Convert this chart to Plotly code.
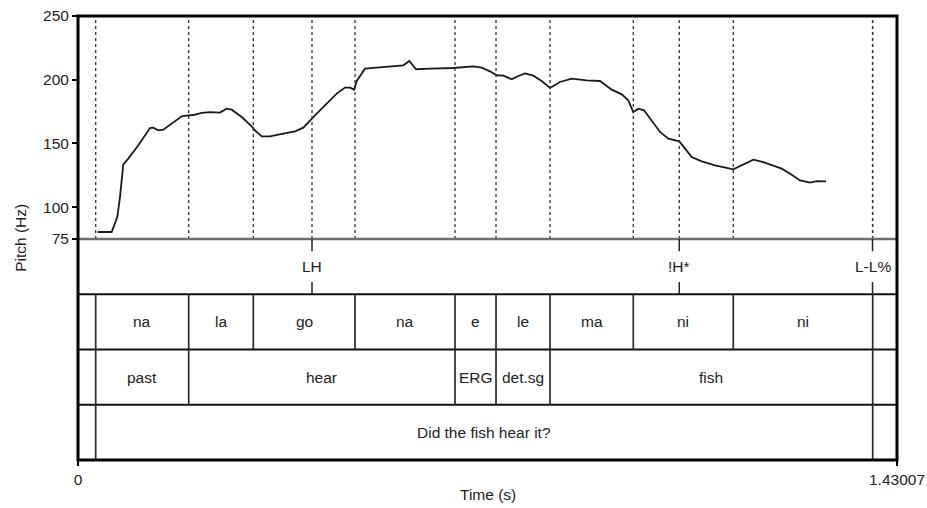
import plotly.graph_objects as go

# ---------------- data ----------------
t_end = 1.43007

pitch_time = [0.0344, 0.0588, 0.0686, 0.0733, 0.0791, 0.0878, 0.1053, 0.1170, 0.1257, 0.1315,
              0.1402, 0.1489, 0.1636, 0.1811, 0.1926, 0.2013, 0.2160, 0.2305, 0.2479, 0.2596,
              0.2684, 0.2858, 0.3033, 0.3091, 0.3208, 0.3353, 0.3585, 0.3789, 0.3934, 0.4051,
              0.4168, 0.4343, 0.4517, 0.4662, 0.4750, 0.4820, 0.4867, 0.5011, 0.5331, 0.5680,
              0.5785, 0.5902, 0.6146, 0.6553, 0.6902, 0.7049, 0.7194, 0.7311, 0.7426, 0.7573,
              0.7688, 0.7805, 0.7950, 0.8097, 0.8242, 0.8416, 0.8621, 0.8883, 0.9115, 0.9319,
              0.9494, 0.9609, 0.9696, 0.9784, 0.9883, 1.0018, 1.0163, 1.0309, 1.0500, 1.0600,
              1.0716, 1.0891, 1.1123, 1.1442, 1.1617, 1.1792, 1.1966, 1.2288, 1.2462, 1.2607,
              1.2782, 1.2899, 1.3061]
pitch_hz = [80.5, 80.5, 92.2, 107.9, 133.6, 138.1, 148.5, 156.4, 162.1, 162.4,
            160.3, 160.8, 165.5, 171.3, 172.1, 172.3, 173.9, 174.6, 174.2, 177.3,
            176.5, 170.7, 163.4, 160.3, 155.6, 155.6, 157.7, 159.5, 162.4, 168.1,
            173.4, 181.2, 189.1, 193.8, 193.8, 192.2, 199.0, 208.7, 210.0, 211.3,
            214.7, 208.2, 208.7, 209.2, 210.5, 209.5, 206.6, 203.5, 203.2, 200.3,
            202.9, 205.0, 203.2, 199.0, 193.5, 198.2, 200.9, 199.5, 199.0, 192.2,
            188.5, 183.8, 174.6, 177.3, 176.0, 168.1, 159.0, 153.8, 151.6, 145.9,
            139.3, 136.0, 132.8, 129.7, 133.6, 137.3, 135.4, 130.2, 125.5, 121.0,
            119.2, 120.5, 120.3]

pitch_ticks = [75, 100, 150, 200, 250]

tone_times = [0.4086, 1.0499, 1.3873]
tone_labels = ["LH", "!H*", "L-L%"]

syll_bounds = [0.0309, 0.1933, 0.3061, 0.4837, 0.6583, 0.7299, 0.8242, 0.9696, 1.1442, 1.3876]
syll_labels = ["na", "la", "go", "na", "e", "le", "ma", "ni", "ni"]

gloss_bounds = [0.0309, 0.1933, 0.6583, 0.7299, 0.8242, 1.3876]
gloss_labels = ["past", "hear", "ERG", "det.sg", "fish"]

trans_bounds = [0.0309, 1.3876]
trans_labels = ["Did the fish hear it?"]

# ---------------- figure ----------------
FONT = "Liberation Sans, Arial, Helvetica, sans-serif"
FS = 15.5
TXT = "#222222"
SPLIT = 0.4977  # paper y where pitch panel meets the tiers
fig = go.Figure()

fig.add_trace(go.Scatter(x=pitch_time, y=pitch_hz, mode="lines",
                         line=dict(color="#1a1a1a", width=1.8),
                         xaxis="x", yaxis="y", hoverinfo="skip", showlegend=False))
# invisible trace to create the tier subplot
fig.add_trace(go.Scatter(x=[0, t_end], y=[0, 4], mode="markers",
                         marker=dict(opacity=0), xaxis="x", yaxis="y2",
                         hoverinfo="skip", showlegend=False))

shapes = []
annotations = []

# dotted lines in the pitch panel at every boundary / point
dotted = sorted(set(syll_bounds + tone_times))
for t in dotted:
    shapes.append(dict(type="line", xref="x", yref="y", x0=t, x1=t, y0=75, y1=250,
                       line=dict(color="#333333", width=1.3, dash="dot")))

# line under the pitch panel (at 75 Hz)
shapes.append(dict(type="line", xref="paper", yref="paper", x0=0, x1=1, y0=SPLIT, y1=SPLIT,
                   line=dict(color="#6e6e6e", width=2.4)))
# tier horizontal separators (tiers: 3-4 tones, 2-3 syllables, 1-2 gloss, 0-1 translation)
for yv in [3, 2, 1]:
    shapes.append(dict(type="line", xref="paper", yref="y2", x0=0, x1=1, y0=yv, y1=yv,
                       line=dict(color="#111111", width=2.2)))

# tone tier point marks
for t, lab in zip(tone_times, tone_labels):
    shapes.append(dict(type="line", xref="x", yref="y2", x0=t, x1=t, y0=4, y1=3.78,
                       line=dict(color="#222222", width=1.5)))
    shapes.append(dict(type="line", xref="x", yref="y2", x0=t, x1=t, y0=3.0, y1=3.22,
                       line=dict(color="#222222", width=1.5)))
    annotations.append(dict(x=t, y=3.5, xref="x", yref="y2", text=lab, showarrow=False,
                            font=dict(family=FONT, size=FS, color=TXT)))


def interval_tier(bounds, labels, y0):
    for b in bounds:
        shapes.append(dict(type="line", xref="x", yref="y2", x0=b, x1=b, y0=y0, y1=y0 + 1,
                           line=dict(color="#2a2a2a", width=1.7)))
    for i, lab in enumerate(labels):
        annotations.append(dict(x=(bounds[i] + bounds[i + 1]) / 2, y=y0 + 0.5, xref="x",
                                yref="y2", text=lab, showarrow=False,
                                font=dict(family=FONT, size=FS, color=TXT)))


interval_tier(syll_bounds, syll_labels, 2)
interval_tier(gloss_bounds, gloss_labels, 1)
interval_tier(trans_bounds, trans_labels, 0)

# outer frame
shapes.append(dict(type="rect", xref="paper", yref="paper", x0=0, x1=1, y0=0, y1=1,
                   line=dict(color="black", width=3)))

annotations.append(dict(x=0.5, y=-0.077, xref="paper", yref="paper", text="Time (s)",
                        showarrow=False, yanchor="middle",
                        font=dict(family=FONT, size=FS, color=TXT)))
annotations.append(dict(x=-0.071, y=0.5, xref="paper", yref="paper", text="Pitch (Hz)",
                        showarrow=False, textangle=-90, xanchor="center", yanchor="middle",
                        font=dict(family=FONT, size=FS, color=TXT)))

fig.update_layout(
    width=927, height=508,
    margin=dict(l=78, r=30, t=16, b=48, autoexpand=False),
    paper_bgcolor="white", plot_bgcolor="white",
    xaxis=dict(range=[0, t_end], anchor="y2", showgrid=False, zeroline=False,
               automargin=False,
               tickvals=[0, t_end], ticktext=["0", "1.43007"], ticks="outside",
               ticklen=5, tickwidth=1.5, tickcolor="black", showline=False,
               tickfont=dict(family=FONT, size=FS, color=TXT)),
    yaxis=dict(domain=[SPLIT, 1], range=[75, 250], anchor="x", showgrid=False,
               automargin=False,
               zeroline=False, tickvals=pitch_ticks, ticks="outside", ticklen=5,
               tickwidth=1.5, tickcolor="black", showline=False,
               tickfont=dict(family=FONT, size=FS, color=TXT)),
    yaxis2=dict(domain=[0, SPLIT], range=[0, 4], anchor="x", visible=False,
                automargin=False, showgrid=False, zeroline=False),
    shapes=shapes, annotations=annotations,
    font=dict(family=FONT),
)

fig.write_html("out.html")
